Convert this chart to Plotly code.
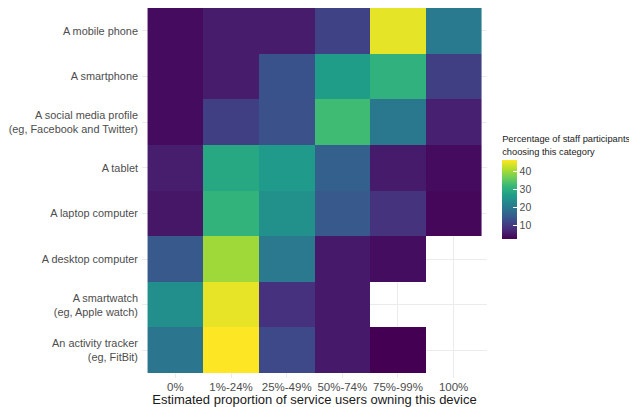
import plotly.graph_objects as go

# --- DATA ---
DEVICES = [
    "A mobile phone",
    "A smartphone",
    "A social media profile<br>(eg, Facebook and Twitter)",
    "A tablet",
    "A laptop computer",
    "A desktop computer",
    "A smartwatch<br>(eg, Apple watch)",
    "An activity tracker<br>(eg, FitBit)",
]
PROPORTIONS = ["0%", "1%-24%", "25%-49%", "50%-74%", "75%-99%", "100%"]

# percentage of staff participants per device (row) and proportion (column); None = no answer
mobile_phone = [4, 6.1, 6.1, 11.5, 45.2, 20.8]
smartphone = [4, 6.1, 14, 27, 31, 11]
social_media = [4, 11, 13.7, 33, 20.5, 6.6]
tablet = [6.3, 29.2, 26.5, 16.2, 6, 4]
laptop = [5.3, 31.4, 24.8, 15, 9.3, 3.5]
desktop = [15, 40.4, 20.6, 5.7, 4.2, None]
smartwatch = [24.5, 45.3, 9, 5.7, None, None]
activity_tracker = [20, 46.8, 12.5, 5.7, 2.7, None]

Z = [mobile_phone, smartphone, social_media, tablet, laptop, desktop, smartwatch, activity_tracker]
CBAR_TICKS = [10, 20, 30, 40]

GREY = "#4d4d4d"

fig = go.Figure()
fig.add_trace(go.Heatmap(
    z=Z,
    x=list(range(len(PROPORTIONS))),
    y=list(range(len(DEVICES))),
    colorscale="Viridis",
    xgap=0, ygap=0,
    hoverongaps=False,
    colorbar=dict(
        title=dict(text="Percentage of staff participants<br>choosing this category",
                   side="top", font=dict(size=9.3, color="#1a1a1a")),
        x=1.044, xanchor="left", xref="paper", xpad=0,
        y=0.377, yanchor="bottom", ypad=0,
        lenmode="pixels", len=106,
        thickness=15, thicknessmode="pixels",
        outlinewidth=0,
        tickvals=CBAR_TICKS,
        ticks="inside", tickcolor="white", ticklen=4,
        tickfont=dict(size=10.5, color=GREY),
    ),
))

# page body adds an 8px margin, so the figure is 8px smaller than the window
fig.update_layout(
    width=629, height=399,
    margin=dict(l=134, r=149.5, t=0, b=29.4, autoexpand=False),
    paper_bgcolor="white", plot_bgcolor="white",
    font=dict(family="Liberation Sans, Arial, sans-serif", color=GREY),
    xaxis=dict(
        tickvals=list(range(len(PROPORTIONS))), ticktext=PROPORTIONS,
        range=[-0.6, len(PROPORTIONS) - 0.4],
        showgrid=True, gridcolor="#ebebeb", gridwidth=1,
        zeroline=False, ticks="", tickangle=0, automargin=False,
        tickfont=dict(size=11.5, color=GREY),
        title=dict(text="Estimated proportion of service users owning this device",
                   font=dict(size=13, color="#1a1a1a"), standoff=0),
    ),
    yaxis=dict(
        tickvals=list(range(len(DEVICES))), ticktext=DEVICES,
        range=[len(DEVICES) - 0.4, -0.5],
        showgrid=True, gridcolor="#ebebeb", gridwidth=1,
        zeroline=False, ticks="", automargin=False,
        tickfont=dict(size=10.9, color=GREY),
        ticklabelstandoff=3,
    ),
)

fig.write_html("out.html")
